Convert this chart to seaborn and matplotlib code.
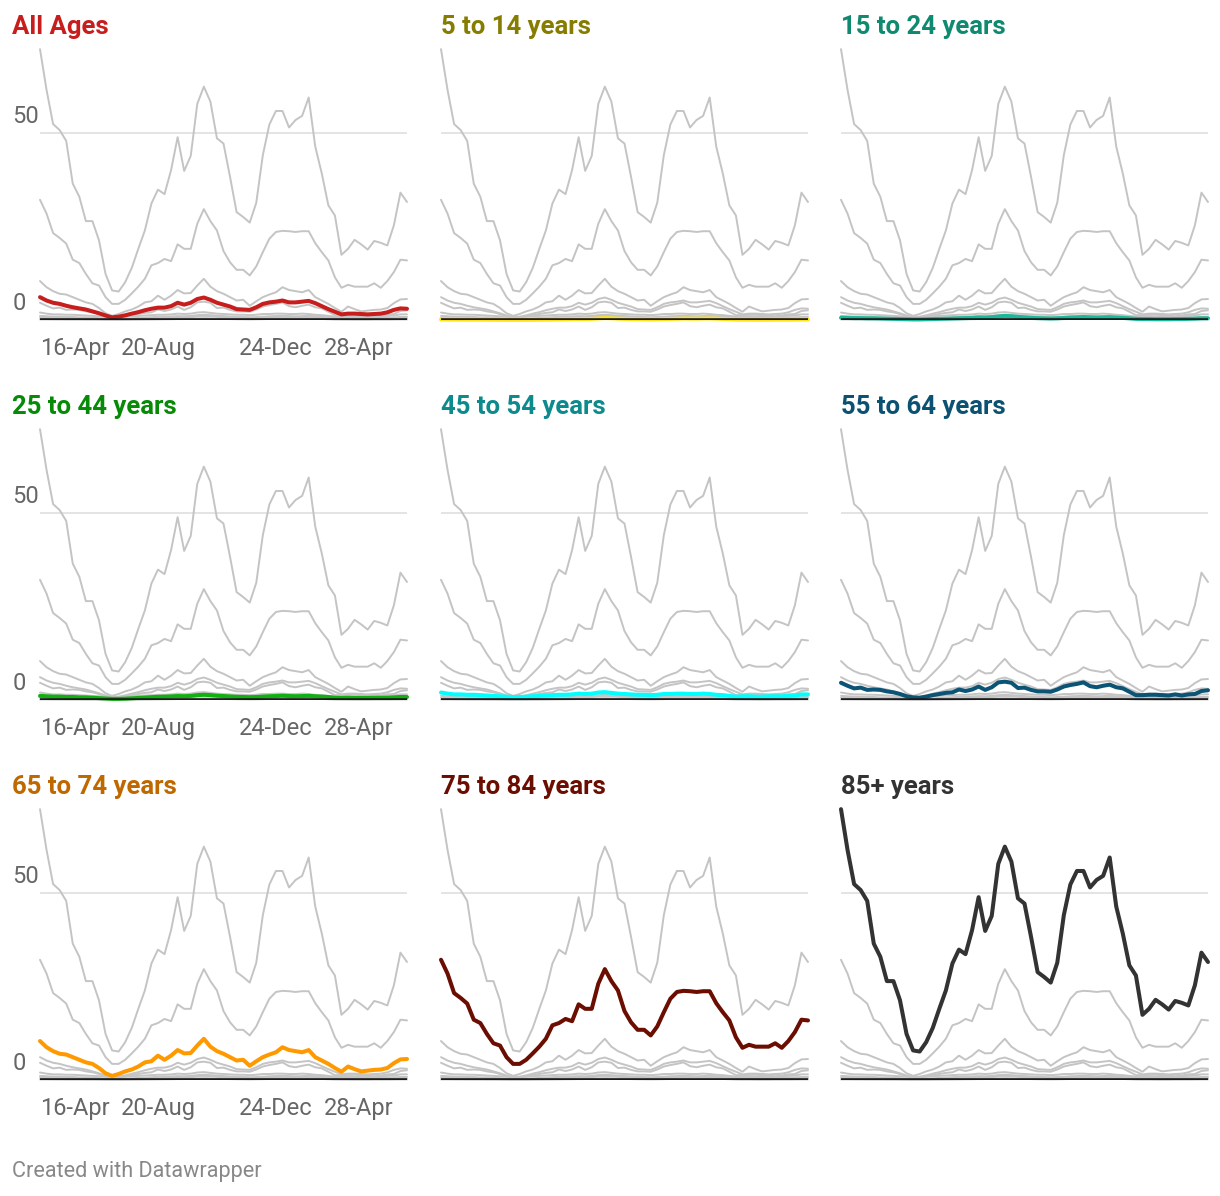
import pandas as pd
import matplotlib.pyplot as plt
import matplotlib.transforms as mtransforms
import seaborn as sns

# weekly rates, 57 weeks starting 16-Apr
dates = pd.date_range("2019-04-16", periods=57, freq="7D")
tick_idx = [0, 18, 36, 54]

groups = ["All Ages", "5 to 14 years", "15 to 24 years",
          "25 to 44 years", "45 to 54 years", "55 to 64 years",
          "65 to 74 years", "75 to 84 years", "85+ years"]

all_ages = [6.1, 5.2, 4.6, 4.3, 3.8, 3.4, 3.1, 2.8, 2.3, 1.8,
            1.2, 0.7, 0.9, 1.25, 1.7, 2.1, 2.6, 3.0, 3.3, 3.3,
            3.7, 4.6, 4.1, 4.6, 5.6, 6.0, 5.4, 4.6, 4.1, 3.6,
            2.9, 2.8, 2.7, 3.4, 4.3, 4.7, 4.9, 5.2, 4.7, 4.7,
            4.9, 5.1, 4.5, 3.7, 2.9, 2.2, 1.5, 1.7, 1.7, 1.6,
            1.5, 1.6, 1.7, 2.05, 2.7, 3.1, 3.0]
age_5_14 = [0.15, 0.15, 0.12, 0.12, 0.1, 0.1, 0.1, 0.08, 0.08, 0.06,
            0.05, 0.05, 0.05, 0.05, 0.06, 0.08, 0.1, 0.12, 0.15, 0.18,
            0.2, 0.25, 0.25, 0.3, 0.4, 0.5, 0.45, 0.35, 0.3, 0.25,
            0.2, 0.18, 0.15, 0.18, 0.22, 0.28, 0.32, 0.38, 0.35, 0.35,
            0.38, 0.4, 0.35, 0.28, 0.2, 0.12, 0.1, 0.1, 0.08, 0.08,
            0.08, 0.1, 0.1, 0.1, 0.12, 0.15, 0.15]
age_15_24 = [0.6, 0.55, 0.5, 0.5, 0.45, 0.45, 0.4, 0.35, 0.3, 0.25,
             0.2, 0.15, 0.15, 0.2, 0.25, 0.3, 0.35, 0.4, 0.45, 0.5,
             0.55, 0.7, 0.65, 0.75, 0.95, 1.1, 1.0, 0.85, 0.7, 0.6,
             0.5, 0.45, 0.4, 0.45, 0.55, 0.65, 0.7, 0.8, 0.7, 0.65,
             0.7, 0.75, 0.65, 0.55, 0.45, 0.3, 0.25, 0.25, 0.2, 0.2,
             0.2, 0.25, 0.25, 0.3, 0.35, 0.45, 0.45]
age_25_44 = [1.1, 1.0, 0.9, 0.9, 0.8, 0.8, 0.7, 0.7, 0.6, 0.5,
             0.4, 0.3, 0.3, 0.35, 0.45, 0.55, 0.65, 0.75, 0.85, 0.9,
             0.95, 1.05, 1.0, 1.1, 1.3, 1.4, 1.3, 1.15, 1.05, 0.95,
             0.85, 0.8, 0.75, 0.8, 0.9, 1.0, 1.05, 1.15, 1.05, 1.0,
             1.05, 1.1, 1.0, 0.9, 0.8, 0.6, 0.55, 0.6, 0.55, 0.55,
             0.55, 0.6, 0.6, 0.6, 0.7, 0.8, 0.8]
age_45_54 = [2.0, 1.7, 1.5, 1.5, 1.4, 1.4, 1.3, 1.2, 1.1, 1.0,
             0.9, 0.8, 0.8, 0.9, 1.0, 1.1, 1.2, 1.3, 1.4, 1.4,
             1.5, 1.7, 1.6, 1.7, 2.0, 2.1, 1.9, 1.7, 1.6, 1.5,
             1.4, 1.4, 1.3, 1.4, 1.6, 1.6, 1.7, 1.7, 1.6, 1.6,
             1.7, 1.6, 1.4, 1.3, 1.1, 0.9, 1.0, 1.0, 0.9, 0.9,
             1.0, 1.0, 1.0, 1.1, 1.2, 1.5, 1.5]
age_55_64 = [4.6, 3.8, 3.1, 3.3, 2.7, 2.8, 2.7, 2.3, 2.05, 1.6,
             1.0, 0.7, 0.6, 0.9, 1.3, 1.6, 1.9, 2.05, 2.8, 2.4,
             2.8, 3.6, 2.7, 3.4, 4.7, 4.9, 4.6, 3.2, 3.3, 2.7,
             2.3, 2.3, 2.2, 2.8, 3.6, 4.0, 4.3, 4.7, 3.7, 3.4,
             3.8, 4.1, 3.4, 3.1, 2.2, 1.3, 1.3, 1.4, 1.4, 1.3,
             1.2, 1.5, 1.2, 1.5, 1.6, 2.4, 2.6]
age_65_74 = [10.4, 8.75, 7.7, 7.0, 6.8, 6.1, 5.4, 4.7, 4.3, 3.2,
             1.8, 1.1, 1.6, 2.3, 2.8, 3.6, 4.7, 5.0, 6.5, 5.4,
             6.5, 8.0, 7.1, 7.2, 9.2, 11.0, 8.9, 7.7, 7.0, 6.1,
             5.2, 5.4, 3.8, 5.0, 6.1, 6.8, 7.4, 8.75, 8.0, 7.7,
             7.4, 8.0, 6.1, 5.2, 4.3, 3.2, 2.2, 3.6, 2.9, 2.3,
             2.5, 2.7, 2.8, 3.2, 4.5, 5.5, 5.6]
age_75_84 = [32.1, 28.4, 23.2, 21.9, 20.4, 16.1, 15.2, 12.3, 9.8, 9.2,
             6.1, 4.3, 4.3, 5.4, 7.1, 8.9, 11.0, 14.6, 15.2, 16.3,
             15.7, 20.2, 19.0, 19.0, 25.7, 29.6, 26.4, 23.9, 18.4, 15.4,
             13.4, 13.4, 11.9, 14.3, 18.1, 21.7, 23.5, 23.8, 23.7, 23.5,
             23.7, 23.7, 20.5, 18.1, 15.9, 11.4, 8.6, 9.4, 8.9, 8.9,
             8.9, 9.8, 8.6, 10.4, 12.8, 16.1, 15.9]
age_85 = [72.3, 61.4, 52.3, 50.7, 47.8, 36.4, 32.9, 26.4, 26.4, 21.3,
          12.3, 7.9, 7.6, 10.1, 13.9, 19.0, 23.9, 31.1, 34.8, 33.6,
          40.0, 48.8, 39.8, 43.8, 57.7, 62.3, 58.3, 48.5, 47.1, 38.2,
          28.8, 27.5, 26.0, 31.3, 44.0, 52.2, 55.8, 55.8, 51.4, 53.4,
          54.5, 59.4, 46.3, 39.1, 30.6, 27.9, 17.4, 19.0, 21.4, 20.2,
          18.8, 21.1, 20.6, 19.9, 25.3, 34.0, 31.5]

values = [all_ages, age_5_14, age_15_24, age_25_44, age_45_54,
          age_55_64, age_65_74, age_75_84, age_85]

title_colors = ["#c71e1d", "#857c00", "#0f8a70", "#078a07", "#0d8a8c",
                "#0b5172", "#c06800", "#6b0d00", "#333333"]
line_colors = ["#c71e1d", "#ffe31a", "#1ab99a", "#0fb00f", "#00ffff",
               "#0b5475", "#ff9900", "#6b0d00", "#333333"]

df = pd.concat([pd.DataFrame({"date": dates, "value": v, "group": g})
                for g, v in zip(groups, values)], ignore_index=True)

sns.set_theme(style="white")
plt.rcParams["font.family"] = ["Roboto", "DejaVu Sans"]

W, H = 1220, 1196
fig = plt.figure(figsize=(W / 100, H / 100), dpi=100)

lefts = [40, 441, 841]
bases = [320, 700, 1080]
title_x = [12, 441, 841]
ymax = 73
px_per_unit = 3.746
ax_w = 367
ax_h = ymax * px_per_unit
grey = "#c4c4c4"

for i, g in enumerate(groups):
    row, col = divmod(i, 3)
    base = bases[row]
    ax = fig.add_axes([lefts[col] / W, (H - base) / H, ax_w / W, ax_h / H])

    others = df[df["group"] != g]
    sns.lineplot(data=others, x="date", y="value", units="group",
                 estimator=None, color=grey, linewidth=1.4, ax=ax,
                 legend=False)
    sns.lineplot(data=df[df["group"] == g], x="date", y="value",
                 color=line_colors[i], linewidth=2.9, ax=ax, legend=False)
    for line in ax.lines:
        line.set_solid_joinstyle("round")
        line.set_clip_on(False)

    ax.axhline(50, color="#e2e2e2", linewidth=1.3, zorder=0)
    ax.axhline(0, color="#1a1a1a", linewidth=2.6, zorder=5)

    ax.set_xlim(dates[0], dates[-1])
    ax.set_ylim(0, ymax)
    for s in ax.spines.values():
        s.set_visible(False)
    ax.set_xlabel("")
    ax.set_ylabel("")
    ax.tick_params(length=0)

    if col == 0:
        ax.set_xticks(dates[tick_idx])
        ax.set_xticklabels([d.strftime("%d-%b") for d in dates[tick_idx]],
                           fontsize=17, color="#666666")
        ax.tick_params(axis="x", pad=12)
        xl = ax.get_xticklabels()
        xl[0].set_ha("left")
        xl[-1].set_ha("right")
        ax.set_yticks([0, 50])
        ax.set_yticklabels(["0", "50"], fontsize=17, color="#666666")
        ax.tick_params(axis="y", pad=20)
        lift = mtransforms.ScaledTranslation(0, 5 / 100, fig.dpi_scale_trans)
        for lab in ax.get_yticklabels():
            lab.set_ha("left")
            lab.set_va("bottom")
            lab.set_transform(lab.get_transform() + lift)
    else:
        ax.set_xticks([])
        ax.set_yticks([])

    fig.text(title_x[col] / W, 1 - (base - 286) / H, g, fontsize=18.5,
             fontweight="bold", color=title_colors[i], va="baseline",
             ha="left")

fig.text(12 / W, 1 - 1172 / H, "Created with Datawrapper", fontsize=15.6,
         color="#888888", va="center", ha="left")

plt.savefig("out.png", dpi=100)
plt.close()
